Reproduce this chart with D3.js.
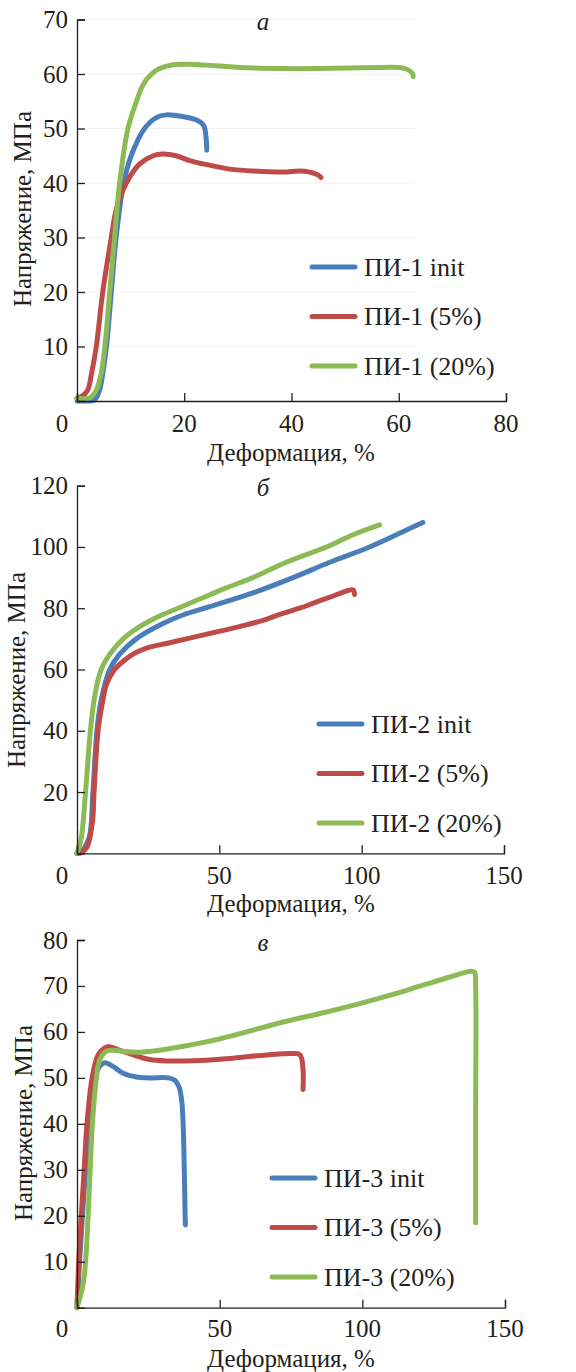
<!DOCTYPE html>
<html>
<head>
<meta charset="utf-8">
<script src="https://cdn.jsdelivr.net/npm/d3@7"></script>
<style>
  body { margin: 0; background: #fff; }
  svg { display: block; }
</style>
</head>
<body>
<div id="chart"></div>
<script>
// Series data: [strain %, stress MPa]
const pi1Init = [[0,0],[2,0],[3.3,0.2],[4.2,2],[4.8,5],[5.5,10],[6.4,20],[7.3,30],[8.7,40],[10.1,45],[12.6,50],[14.8,52],[16.6,52.5],[19.7,52.2],[22.2,51.6],[23.6,50.6],[24.1,48],[24.2,46]];
const pi1_5 = [[0,0.5],[1.1,1],[2,2],[2.7,5],[3.6,10],[4.8,20],[6.4,30],[7.3,35],[9.2,40],[11.7,43.5],[14.2,45],[16,45.3],[18.5,45],[21,44.1],[23.5,43.5],[26,43],[29,42.5],[32.8,42.2],[38.4,42],[41.5,42.2],[43.4,42],[44.9,41.5],[45.5,41]];
const pi1_20 = [[0,0.5],[2.4,0.6],[3.6,2],[4.5,5],[5.2,10],[6.1,20],[7,30],[7.95,40],[9.5,50],[11.1,55],[12.3,58],[13.9,60],[15.4,61],[17.9,61.7],[20.4,61.8],[26,61.5],[30.3,61.2],[38.4,61],[44.6,61],[50.8,61.1],[57,61.2],[60.1,61.2],[61.7,60.8],[62.6,60],[62.7,59.5]];

const pi2Init = [[0,0],[1,0],[4.2,5],[5.6,20],[7,40],[8.5,50],[11.5,60],[15,65],[20.8,70],[30.2,75],[37.2,77.8],[46.6,80.5],[61.8,85],[75.9,90],[88.8,95],[102.8,100],[114.5,105],[121.5,108]];
const pi2_5 = [[0,0],[1.5,0.3],[3.5,2],[5.4,10],[6,20],[7.4,40],[9.1,50],[10.3,55],[13.2,60],[16.7,63],[19.7,65],[24.4,67],[31.4,68.5],[38.4,70],[47.8,72],[57.1,74],[65.3,76],[71.2,78],[78.2,80],[84,82],[90,84],[95.2,85.8],[97,86],[97.5,84.5]];
const pi2_20 = [[0,0],[1.5,5],[3,20],[4.7,40],[6,50],[7,55],[8.5,60],[11.5,65],[16.2,70],[22,74],[27.9,77],[35.5,80],[43.1,83],[52,86.5],[61.8,90],[73.5,95],[87.6,100],[97,104],[106.3,107.2]];

const pi3Init = [[0,0],[0.9,10],[1.9,20],[3,30],[4.2,40],[5.9,48],[7.4,52],[9.7,53.3],[12.6,52.5],[16.2,51],[20.8,50.2],[25.5,50],[32,50],[34.3,49.5],[35.8,48],[36.7,45],[37.2,40],[37.6,30],[37.9,20],[38,18]];
const pi3_5 = [[0,0],[0.6,10],[1.5,20],[2.5,30],[3.5,40],[5.3,50],[7.4,55],[9.7,56.5],[11.5,56.8],[15,56],[19.7,55],[25.5,54],[31.4,53.7],[43.1,53.8],[54.8,54.3],[66.5,55],[75.9,55.3],[78.2,55],[79.2,52],[79.2,47.5]];
const pi3_20 = [[0,0],[2.1,5],[3,10],[3.9,20],[4.6,30],[5.4,40],[6.8,50],[8,54],[10.3,55.8],[12.6,56],[17.3,55.7],[22,55.6],[29,56],[38.4,57],[50.1,58.5],[59.5,60],[71.2,62],[85.2,64],[98.1,66],[109.8,68],[120.4,70],[131,72],[137.9,73.2],[139.3,73],[139.7,70],[139.7,40],[139.7,18.5]];

const xTicksA = [0, 20, 40, 60, 80];
const yTicksA = [10, 20, 30, 40, 50, 60, 70];
const xTicksBC = [0, 50, 100, 150];
const yTicksB = [20, 40, 60, 80, 100, 120];
const yTicksC = [10, 20, 30, 40, 50, 60, 70, 80];

const namesA = ["ПИ-1 init", "ПИ-1 (5%)", "ПИ-1 (20%)"];
const namesB = ["ПИ-2 init", "ПИ-2 (5%)", "ПИ-2 (20%)"];
const namesC = ["ПИ-3 init", "ПИ-3 (5%)", "ПИ-3 (20%)"];
const colors = ["#4a7ebb", "#be4b48", "#8cbb55"];

const width = 576, height = 1372;
const serif = "'Liberation Serif', 'DejaVu Serif', 'Times New Roman', serif";

const svg = d3.select("#chart").append("svg")
    .attr("width", width)
    .attr("height", height)
    .attr("font-family", serif)
    .style("font-family", serif);

function drawPanel(p) {
    let g = svg.append("g");

    let x = d3.scaleLinear().domain([0, p.xMax]).range([p.left, p.right]);
    let y = d3.scaleLinear().domain([0, p.yMax]).range([p.bottom, p.top]);

    // faint gridlines
    if (p.grid) {
        g.append("g").selectAll("line").data(p.yTicks).enter().append("line")
            .attr("x1", p.left).attr("x2", x(p.gridEnd))
            .attr("y1", d => y(d)).attr("y2", d => y(d))
            .attr("stroke", "#f1f1f1").attr("stroke-width", 1);
    }

    let line = d3.line()
        .x(d => x(d[0]))
        .y(d => y(d[1]))
        .curve(d3.curveCatmullRom.alpha(0.5));

    g.append("g").selectAll("path").data(p.series).enter().append("path")
        .attr("d", d => line(d))
        .attr("fill", "none")
        .attr("stroke", (d, i) => colors[i])
        .attr("stroke-width", 5)
        .attr("stroke-linecap", "round")
        .attr("stroke-linejoin", "round");

    // axes (ticks pointing inward)
    let xAxis = g.append("g")
        .attr("transform", `translate(0, ${p.bottom})`)
        .call(d3.axisBottom(x).tickValues(p.xTicks).tickSize(-8).tickFormat(""));
    let yAxis = g.append("g")
        .attr("transform", `translate(${p.left}, 0)`)
        .call(d3.axisLeft(y).tickValues([0].concat(p.yTicks)).tickSize(-8).tickFormat(""));
    [xAxis, yAxis].forEach(a => {
        a.select(".domain").attr("stroke", "#231f20").attr("stroke-width", 1.3);
        a.selectAll(".tick line").attr("stroke", "#231f20").attr("stroke-width", 1.3);
    });
    yAxis.selectAll(".tick").filter(d => d === 0).select("line").remove();

    let txt = sel => sel.attr("font-family", serif).style("font-family", serif).attr("fill", "#231f20");

    g.append("g").selectAll("text").data(p.xTicks).enter().append("text")
        .call(txt)
        .attr("x", d => d === 0 ? x(d) - 15 : x(d))
        .attr("y", p.xLabelY)
        .attr("text-anchor", "middle")
        .attr("dominant-baseline", "central")
        .style("font-size", "25px")
        .text(d => d);

    g.append("g").selectAll("text").data(p.yTicks).enter().append("text")
        .call(txt)
        .attr("x", p.left - 9)
        .attr("y", d => y(d))
        .attr("text-anchor", "end")
        .attr("dominant-baseline", "central")
        .style("font-size", "25px")
        .text(d => d);

    g.append("text")
        .call(txt)
        .attr("x", 291)
        .attr("y", p.xTitleY)
        .attr("text-anchor", "middle")
        .attr("dominant-baseline", "central")
        .style("font-size", "25px")
        .text("Деформация, %");

    g.append("text")
        .call(txt)
        .attr("transform", `translate(${p.yTitleX}, ${p.yTitleY}) rotate(-90)`)
        .attr("text-anchor", "middle")
        .attr("dominant-baseline", "central")
        .style("font-size", "25px")
        .text("Напряжение, МПа");

    g.append("text")
        .call(txt)
        .attr("x", 263)
        .attr("y", p.letterY)
        .attr("text-anchor", "middle")
        .attr("dominant-baseline", "central")
        .style("font-size", "25px")
        .style("font-style", "italic")
        .text(p.letter);

    let leg = g.append("g").selectAll("g").data(p.names).enter().append("g")
        .attr("transform", (d, i) => `translate(${p.legX}, ${p.legY + i * p.legStep})`);
    leg.append("line")
        .attr("x1", 0).attr("x2", 43)
        .attr("stroke", (d, i) => colors[i])
        .attr("stroke-width", 5)
        .attr("stroke-linecap", "round");
    leg.append("text")
        .call(txt)
        .attr("x", 52)
        .attr("dominant-baseline", "central")
        .style("font-size", "26px")
        .text(d => d);
}

drawPanel({
    left: 77, right: 506, top: 19.5, bottom: 401, xMax: 80, yMax: 70,
    xTicks: xTicksA, yTicks: yTicksA, series: [pi1Init, pi1_5, pi1_20], names: namesA,
    grid: true, gridEnd: 63,
    xLabelY: 423, xTitleY: 452, yTitleX: 22, yTitleY: 209, letter: "а", letterY: 21,
    legX: 312, legY: 267, legStep: 49.5
});

drawPanel({
    left: 77, right: 504, top: 485.7, bottom: 853.3, xMax: 150, yMax: 120,
    xTicks: xTicksBC, yTicks: yTicksB, series: [pi2Init, pi2_5, pi2_20], names: namesB,
    grid: false,
    xLabelY: 875, xTitleY: 903, yTitleX: 16, yTitleY: 670, letter: "б", letterY: 487,
    legX: 319, legY: 724, legStep: 49.5
});

drawPanel({
    left: 77, right: 505, top: 940, bottom: 1307.7, xMax: 150, yMax: 80,
    xTicks: xTicksBC, yTicks: yTicksC, series: [pi3Init, pi3_5, pi3_20], names: namesC,
    grid: false,
    xLabelY: 1328, xTitleY: 1358, yTitleX: 23, yTitleY: 1123, letter: "в", letterY: 942,
    legX: 272, legY: 1178, legStep: 49.5
});
</script>
</body>
</html>
